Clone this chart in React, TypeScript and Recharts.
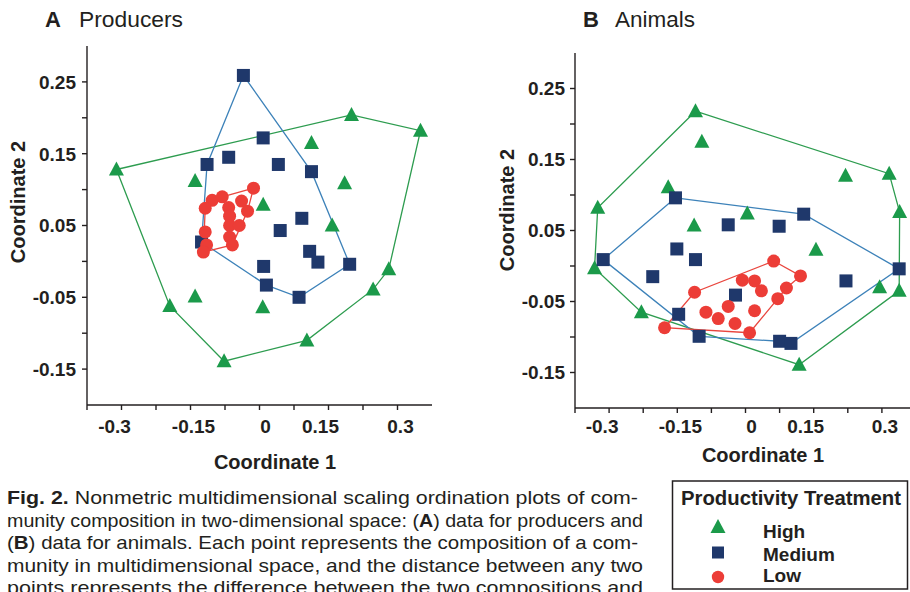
import { Scatter, ScatterChart, XAxis, YAxis } from 'recharts';

// NMDS ordination scores (Coordinate 1 = x, Coordinate 2 = y)
const producersHigh = [
  { x: -0.311, y: 0.128 }, { x: 0.2, y: 0.204 }, { x: 0.35, y: 0.182 }, { x: 0.113, y: 0.165 },
  { x: -0.14, y: 0.112 }, { x: 0.185, y: 0.109 }, { x: 0.008, y: 0.079 }, { x: 0.158, y: 0.05 },
  { x: 0.281, y: -0.011 }, { x: 0.247, y: -0.039 }, { x: -0.195, y: -0.062 }, { x: -0.14, y: -0.049 },
  { x: 0.007, y: -0.064 }, { x: 0.103, y: -0.11 }, { x: -0.077, y: -0.139 },
];
const producersMedium = [
  { x: -0.035, y: 0.259 }, { x: 0.008, y: 0.172 }, { x: -0.114, y: 0.135 }, { x: -0.067, y: 0.145 },
  { x: 0.041, y: 0.135 }, { x: 0.113, y: 0.125 }, { x: 0.092, y: 0.06 }, { x: 0.045, y: 0.043 },
  { x: -0.126, y: 0.027 }, { x: 0.109, y: 0.014 }, { x: 0.127, y: -0.001 }, { x: 0.196, y: -0.004 },
  { x: 0.009, y: -0.007 }, { x: 0.015, y: -0.033 }, { x: 0.086, y: -0.05 },
];
const producersLow = [
  { x: -0.013, y: 0.102 }, { x: -0.103, y: 0.085 }, { x: -0.081, y: 0.09 }, { x: -0.118, y: 0.074 },
  { x: -0.039, y: 0.084 }, { x: -0.026, y: 0.07 }, { x: -0.067, y: 0.075 }, { x: -0.065, y: 0.063 },
  { x: -0.065, y: 0.05 }, { x: -0.044, y: 0.05 }, { x: -0.118, y: 0.041 }, { x: -0.065, y: 0.034 },
  { x: -0.059, y: 0.023 }, { x: -0.115, y: 0.023 }, { x: -0.122, y: 0.013 },
];

const animalsHigh = [
  { x: -0.11, y: 0.218 }, { x: -0.096, y: 0.175 }, { x: 0.22, y: 0.127 }, { x: 0.316, y: 0.13 },
  { x: -0.17, y: 0.111 }, { x: -0.325, y: 0.082 }, { x: 0.339, y: 0.076 }, { x: 0.004, y: 0.074 },
  { x: -0.113, y: 0.057 }, { x: 0.155, y: 0.023 }, { x: -0.332, y: -0.003 }, { x: 0.295, y: -0.03 },
  { x: 0.338, y: -0.035 }, { x: -0.229, y: -0.065 }, { x: 0.118, y: -0.139 },
];
const animalsMedium = [
  { x: -0.154, y: 0.096 }, { x: 0.128, y: 0.073 }, { x: -0.038, y: 0.058 }, { x: 0.074, y: 0.056 },
  { x: -0.151, y: 0.024 }, { x: -0.313, y: 0.009 }, { x: -0.11, y: 0.009 }, { x: -0.204, y: -0.015 },
  { x: 0.338, y: -0.004 }, { x: 0.221, y: -0.021 }, { x: -0.022, y: -0.041 }, { x: -0.147, y: -0.068 },
  { x: -0.102, y: -0.099 }, { x: 0.075, y: -0.106 }, { x: 0.1, y: -0.109 },
];
const animalsLow = [
  { x: 0.062, y: 0.007 }, { x: 0.121, y: -0.014 }, { x: -0.007, y: -0.02 }, { x: 0.02, y: -0.021 },
  { x: 0.035, y: -0.035 }, { x: 0.09, y: -0.031 }, { x: -0.112, y: -0.037 }, { x: 0.071, y: -0.046 },
  { x: -0.038, y: -0.057 }, { x: -0.087, y: -0.065 }, { x: 0.02, y: -0.063 }, { x: -0.06, y: -0.074 },
  { x: -0.023, y: -0.081 }, { x: -0.178, y: -0.087 }, { x: 0.009, y: -0.094 },
];

// outline polygons, as indexes into the point lists above
const producersHighHull = [0, 1, 2, 8, 9, 13, 14, 10];
const producersMediumHull = [0, 5, 11, 14, 13, 8, 2];
const producersLowHull = [0, 5, 12, 14, 3, 1, 2];
const animalsHighHull = [0, 3, 6, 12, 14, 13, 10, 5];
const animalsMediumHull = [0, 1, 8, 14, 13, 12, 5];
const animalsLowHull = [0, 1, 5, 7, 14, 13, 6];

const xTicks = [-0.375, -0.3, -0.225, -0.15, -0.075, 0, 0.075, 0.15, 0.225, 0.3];
const yTicks = [-0.15, -0.1, -0.05, 0, 0.05, 0.1, 0.15, 0.2, 0.25];
const xTickLabels = ['-0.3', '-0.15', '0', '0.15', '0.3'];
const yTickLabels = ['0.25', '0.15', '0.05', '-0.05', '-0.15'];
const xLabelNudge: Record<string, number> = { '-0.3': -7, '-0.15': 3, '0': 6, '0.15': -8, '0.3': 3 };

const captionLines = [
  'Nonmetric multidimensional scaling ordination plots of com-',
  'munity composition in two-dimensional space: (',
  ') data for producers and',
  ') data for animals. Each point represents the composition of a com-',
  'munity in multidimensional space, and the distance between any two',
  'points represents the difference between the two compositions and',
];

const FONT = "'Liberation Sans', Arial, Helvetica, sans-serif";
const INK = '#231f20';
const HIGH = '#1b9a4a';
const HIGH_LINE = '#2d9c4f';
const MEDIUM = '#1f386b';
const MEDIUM_LINE = '#3d82b9';
const LOW = '#ec3d37';
const LOW_LINE = '#e9463e';

const ring = (pts: { x: number; y: number }[], order: number[]) =>
  [...order, order[0]].map((i) => pts[i]);

const noDot = () => <g />;
const triangle = ({ cx, cy }: any) => (
  <polygon points={`${cx},${cy - 8} ${cx - 7.5},${cy + 6} ${cx + 7.5},${cy + 6}`} fill={HIGH} />
);
const square = ({ cx, cy }: any) => (
  <rect x={cx - 6.5} y={cy - 6.5} width={13} height={13} fill={MEDIUM} />
);
const dot = ({ cx, cy }: any) => <circle cx={cx} cy={cy} r={6.5} fill={LOW} />;

const XTick = ({ x, y, payload }: any) => {
  const label = String(payload.value);
  if (!xTickLabels.includes(label)) return <g />;
  return (
    <text x={x + (xLabelNudge[label] || 0)} y={y} dy="0.71em" textAnchor="middle"
      fontFamily={FONT} fontWeight="bold" fontSize={19} fill={INK}>
      {label}
    </text>
  );
};

const YTick = ({ x, y, payload }: any) => {
  const label = String(payload.value);
  if (!yTickLabels.includes(label)) return <g />;
  return (
    <text x={x} y={y} dy="0.36em" textAnchor="end"
      fontFamily={FONT} fontWeight="bold" fontSize={19} fill={INK}>
      {label}
    </text>
  );
};

interface PanelProps {
  high: { x: number; y: number }[];
  medium: { x: number; y: number }[];
  low: { x: number; y: number }[];
  highHull: number[];
  mediumHull: number[];
  lowHull: number[];
  width: number;
  height: number;
  top: number;
  right: number;
  yAxisWidth: number;
  xAxisHeight: number;
  xTickMargin: number;
  yTickMargin: number;
}

function Panel(p: PanelProps) {
  const axisStyle = { stroke: INK, strokeWidth: 1.4 };
  return (
    <ScatterChart width={p.width} height={p.height}
      margin={{ top: p.top, right: p.right, bottom: 0, left: 0 }}>
      <XAxis type="number" dataKey="x" domain={[-0.375, 0.375]} ticks={xTicks} interval={0}
        allowDataOverflow height={p.xAxisHeight} axisLine={axisStyle} tickLine={axisStyle}
        tickSize={5} tickMargin={p.xTickMargin} tick={<XTick />} />
      <YAxis type="number" dataKey="y" domain={[-0.2, 0.3]} ticks={yTicks} interval={0}
        allowDataOverflow width={p.yAxisWidth} axisLine={axisStyle} tickLine={axisStyle}
        tickSize={5} tickMargin={p.yTickMargin} tick={<YTick />} />
      <Scatter data={ring(p.high, p.highHull)} shape={noDot} line={{ stroke: HIGH_LINE, strokeWidth: 1.3 }}
        lineType="joint" isAnimationActive={false} />
      <Scatter data={ring(p.medium, p.mediumHull)} shape={noDot} line={{ stroke: MEDIUM_LINE, strokeWidth: 1.3 }}
        lineType="joint" isAnimationActive={false} />
      <Scatter data={ring(p.low, p.lowHull)} shape={noDot} line={{ stroke: LOW_LINE, strokeWidth: 1.3 }}
        lineType="joint" isAnimationActive={false} />
      <Scatter data={p.high} shape={triangle} isAnimationActive={false} />
      <Scatter data={p.medium} shape={square} isAnimationActive={false} />
      <Scatter data={p.low} shape={dot} isAnimationActive={false} />
    </ScatterChart>
  );
}

export default function App() {
  const bold = { fontFamily: FONT, fontWeight: 'bold' as const, fill: INK };
  return (
    <div style={{ position: 'absolute', left: 0, top: 0, width: 910, height: 592, overflow: 'hidden', background: '#fff' }}>
      <div style={{ position: 'absolute', left: 0, top: 0 }}>
        <Panel high={producersHigh} medium={producersMedium} low={producersLow}
          highHull={producersHighHull} mediumHull={producersMediumHull} lowHull={producersLowHull}
          width={442} height={470} top={46} right={10} yAxisWidth={87} xAxisHeight={65}
          xTickMargin={10} yTickMargin={6} />
      </div>
      <div style={{ position: 'absolute', left: 490, top: 0 }}>
        <Panel high={animalsHigh} medium={animalsMedium} low={animalsLow}
          highHull={animalsHighHull} mediumHull={animalsMediumHull} lowHull={animalsLowHull}
          width={431} height={468} top={53} right={5} yAxisWidth={85} xAxisHeight={60}
          xTickMargin={7} yTickMargin={5} />
      </div>

      <svg width={910} height={592} style={{ position: 'absolute', left: 0, top: 0, pointerEvents: 'none' }}>
        {/* panel titles */}
        <text x={45} y={27} fontSize={22} {...bold}>A</text>
        <text x={79} y={27} fontSize={22} fontFamily={FONT} fill={INK} textLength={104} lengthAdjust="spacingAndGlyphs">Producers</text>
        <text x={583} y={27} fontSize={22} {...bold}>B</text>
        <text x={615} y={27} fontSize={22} fontFamily={FONT} fill={INK} textLength={80} lengthAdjust="spacingAndGlyphs">Animals</text>

        {/* axis titles */}
        <text x={275} y={462} fontSize={20} textAnchor="middle" dominantBaseline="central" {...bold}>Coordinate 1</text>
        <text x={763} y={455} fontSize={20} textAnchor="middle" dominantBaseline="central" {...bold}>Coordinate 1</text>
        <text transform="translate(18,202) rotate(-90)" fontSize={20} textAnchor="middle" dominantBaseline="central" {...bold}>Coordinate 2</text>
        <text transform="translate(507,210) rotate(-90)" fontSize={20} textAnchor="middle" dominantBaseline="central" {...bold}>Coordinate 2</text>

        {/* caption */}
        <g fontFamily={FONT} fontSize={19} fill={INK}>
          <text x={7} y={504} textLength={631} lengthAdjust="spacingAndGlyphs">
            <tspan fontWeight="bold">Fig. 2.</tspan> {captionLines[0]}
          </text>
          <text x={7} y={526.6} textLength={636} lengthAdjust="spacingAndGlyphs">
            {captionLines[1]}<tspan fontWeight="bold">A</tspan>{captionLines[2]}
          </text>
          <text x={7} y={549.2} textLength={631} lengthAdjust="spacingAndGlyphs">
            (<tspan fontWeight="bold">B</tspan>{captionLines[3]}
          </text>
          <text x={7} y={571.8} textLength={636} lengthAdjust="spacingAndGlyphs">{captionLines[4]}</text>
          <text x={7} y={594.4} textLength={636} lengthAdjust="spacingAndGlyphs">{captionLines[5]}</text>
        </g>

        {/* legend */}
        <rect x={672.5} y={481} width={235} height={108} fill="none" stroke={INK} strokeWidth={1.5} />
        <text x={681} y={505} fontSize={20} textLength={220} lengthAdjust="spacingAndGlyphs" {...bold}>Productivity Treatment</text>
        <polygon points="718,519 710.5,533 725.5,533" fill={HIGH} />
        <rect x={712} y={546.5} width={12} height={12} fill={MEDIUM} />
        <circle cx={718} cy={577} r={6.2} fill={LOW} />
        <text x={763} y={538} fontSize={19} {...bold}>High</text>
        <text x={763} y={561} fontSize={19} {...bold}>Medium</text>
        <text x={763} y={582} fontSize={19} {...bold}>Low</text>
      </svg>
    </div>
  );
}
